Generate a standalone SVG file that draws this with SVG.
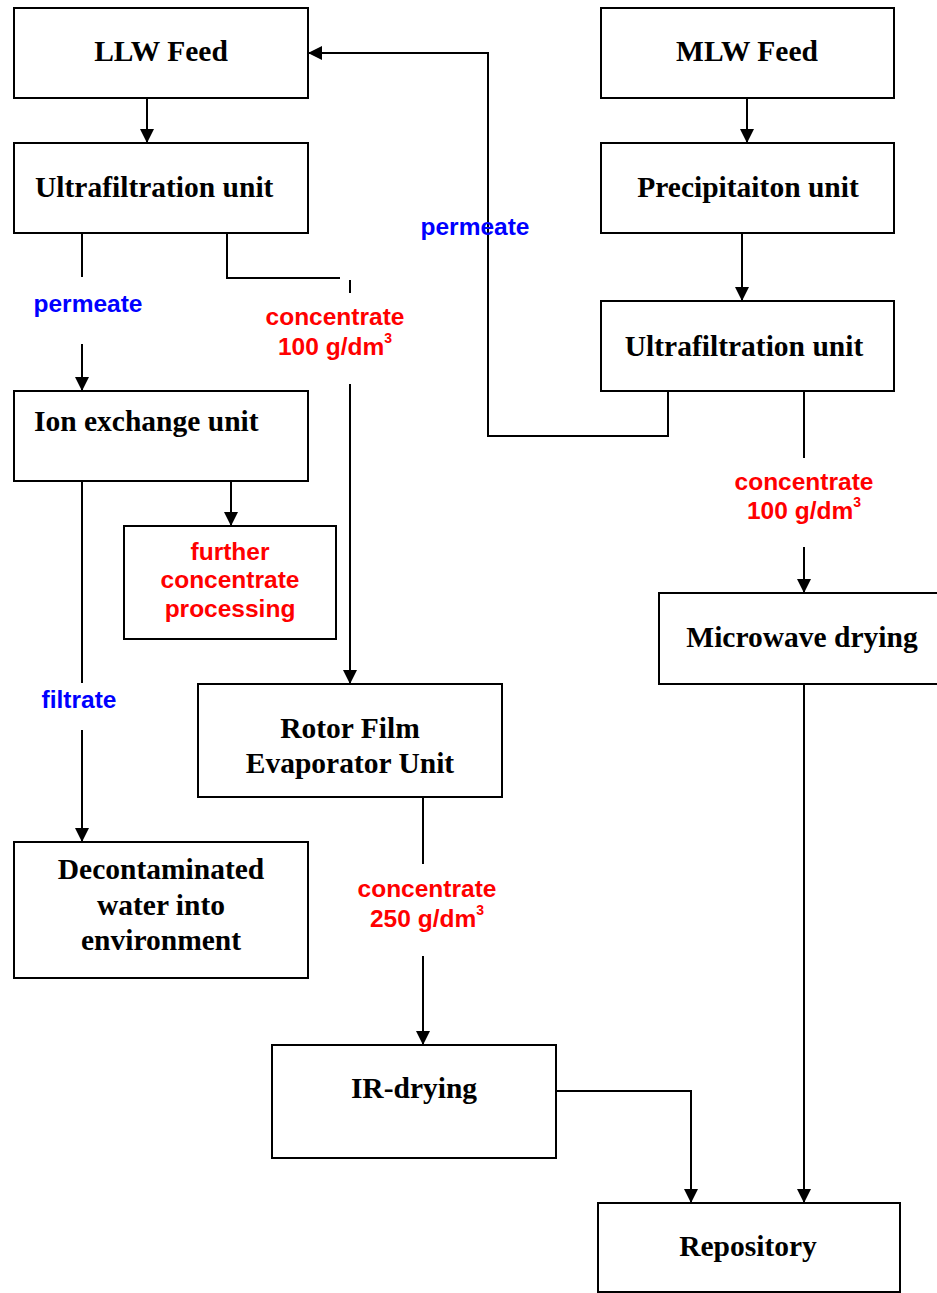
<svg xmlns="http://www.w3.org/2000/svg" width="937" height="1293" viewBox="0 0 937 1293">
<defs>
<marker id="arr" markerUnits="userSpaceOnUse" markerWidth="14" markerHeight="14" refX="14" refY="7" orient="auto" viewBox="0 0 14 14">
<path d="M0,0 L14,7 L0,14 z" fill="#000"/>
</marker>
</defs>
<style>
.box{fill:#fff;stroke:#000;stroke-width:2}
.t{font-family:"Liberation Serif","Times New Roman",serif;font-weight:bold;font-size:29.5px;fill:#000}
.c{text-anchor:middle}
.lbl{font-family:"Liberation Sans",Arial,sans-serif;font-weight:bold;font-size:24.5px;text-anchor:middle}
.red{fill:#FF0000}
.blue{fill:#0000FF}
.ln{fill:none;stroke:#000;stroke-width:2}
.sup{font-size:14px}
</style>
<rect width="937" height="1293" fill="#fff"/>
<g id="connectors">
<path class="ln" d="M147,98 V143" marker-end="url(#arr)"/>
<path class="ln" d="M747,98 V143" marker-end="url(#arr)"/>
<path class="ln" d="M742,233 V301" marker-end="url(#arr)"/>
<path class="ln" d="M668,389 V436 H488 V53 H308" marker-end="url(#arr)"/>
<path class="ln" d="M82,233 V277"/>
<path class="ln" d="M82,344 V391" marker-end="url(#arr)"/>
<path class="ln" d="M227,233 V278 H340"/>
<path class="ln" d="M350,280 V293"/>
<path class="ln" d="M350,384 V684" marker-end="url(#arr)"/>
<path class="ln" d="M231,481 V526" marker-end="url(#arr)"/>
<path class="ln" d="M82,481 V683"/>
<path class="ln" d="M82,730 V842" marker-end="url(#arr)"/>
<path class="ln" d="M804,391 V458"/>
<path class="ln" d="M804,547 V593" marker-end="url(#arr)"/>
<path class="ln" d="M423,797 V864"/>
<path class="ln" d="M423,956 V1045" marker-end="url(#arr)"/>
<path class="ln" d="M556,1091 H691 V1203" marker-end="url(#arr)"/>
<path class="ln" d="M804,684 V1203" marker-end="url(#arr)"/>
</g>
<g id="labels">
<text class="lbl blue" x="475" y="235">permeate</text>
<text class="lbl blue" x="88" y="312">permeate</text>
<text class="lbl red" x="335" y="325">concentrate</text>
<text class="lbl red" x="335" y="355">100 g/dm<tspan class="sup" dy="-12">3</tspan></text>
<text class="lbl red" x="804" y="490">concentrate</text>
<text class="lbl red" x="804" y="519">100 g/dm<tspan class="sup" dy="-12">3</tspan></text>
<text class="lbl blue" x="79" y="708">filtrate</text>
<text class="lbl red" x="427" y="897">concentrate</text>
<text class="lbl red" x="427" y="927">250 g/dm<tspan class="sup" dy="-12">3</tspan></text>
</g>
<g id="llw-feed">
<rect class="box" x="14" y="8" width="294" height="90"/>
<text class="t c" x="161" y="61">LLW Feed</text>
</g>
<g id="mlw-feed">
<rect class="box" x="601" y="8" width="293" height="90"/>
<text class="t c" x="747" y="61">MLW Feed</text>
</g>
<g id="uf-left">
<rect class="box" x="14" y="143" width="294" height="90"/>
<text class="t" x="35" y="197">Ultrafiltration unit</text>
</g>
<g id="precipitation">
<rect class="box" x="601" y="143" width="293" height="90"/>
<text class="t c" x="748" y="197">Precipitaiton unit</text>
</g>
<g id="uf-right">
<rect class="box" x="601" y="301" width="293" height="90"/>
<text class="t c" x="744" y="356">Ultrafiltration unit</text>
</g>
<g id="ion-exchange">
<rect class="box" x="14" y="391" width="294" height="90"/>
<text class="t" x="34" y="431">Ion exchange unit</text>
</g>
<g id="further-processing">
<rect class="box" x="124" y="526" width="212" height="113"/>
<text class="lbl red" x="230" y="560">further</text>
<text class="lbl red" x="230" y="588">concentrate</text>
<text class="lbl red" x="230" y="617">processing</text>
</g>
<g id="rotor-film">
<rect class="box" x="198" y="684" width="304" height="113"/>
<text class="t c" x="350" y="738">Rotor Film</text>
<text class="t c" x="350" y="773">Evaporator Unit</text>
</g>
<g id="microwave">
<rect class="box" x="659" y="593" width="300" height="91"/>
<text class="t c" x="802" y="647">Microwave drying</text>
</g>
<g id="decontaminated">
<rect class="box" x="14" y="842" width="294" height="136"/>
<text class="t c" x="161" y="879">Decontaminated</text>
<text class="t c" x="161" y="915">water into</text>
<text class="t c" x="161" y="950">environment</text>
</g>
<g id="ir-drying">
<rect class="box" x="272" y="1045" width="284" height="113"/>
<text class="t c" x="414" y="1098">IR-drying</text>
</g>
<g id="repository">
<rect class="box" x="598" y="1203" width="302" height="89"/>
<text class="t c" x="748" y="1256">Repository</text>
</g>
</svg>
